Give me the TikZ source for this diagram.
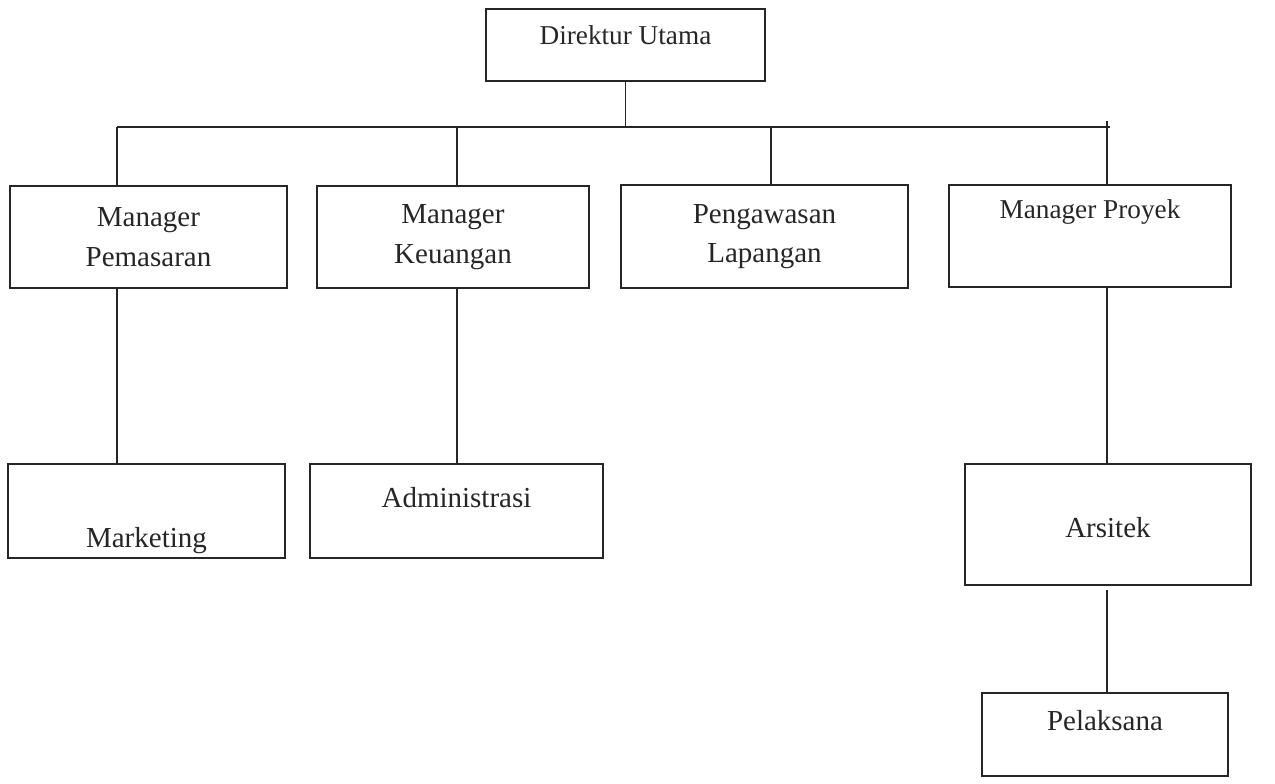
\documentclass[tikz,border=0pt]{standalone}
\usepackage{fontspec}
\setmainfont{Liberation Serif}
\usetikzlibrary{positioning,calc}
\tikzset{
  unit/.style={draw=black!85, text=black!85, line width=1.1pt, rectangle, anchor=north west,
    inner xsep=0pt, align=center, font=\fontsize{16.5}{22.5}\selectfont},
  unitsmall/.style={unit, font=\fontsize{15.5}{20}\selectfont},
  link/.style={draw=black!85, line width=1pt},
}
\begin{document}
\begin{tikzpicture}[x=0.2mm,y=-0.2mm]
  \useasboundingbox (0,0) rectangle (1275,783);
  % top
  \node[unitsmall, minimum width=55.8mm, inner ysep=0pt, text height=7.2mm, text depth=7.2mm] (dirut) at (485,8) {Direktur Utama};
  % managers
  \node[unit, minimum width=55.4mm, minimum height=20.4mm] (pemasaran) at (9,185) {Manager\\Pemasaran};
  \node[unit, minimum width=54.4mm, minimum height=20.4mm] (keuangan) at (316,185) {Manager\\Keuangan};
  \node[unit, minimum width=57.4mm, minimum height=20.6mm] (pengawasan) at (620,184) {Pengawasan\\Lapangan};
  \node[unitsmall, minimum width=56.4mm, inner ysep=0pt, text height=6.8mm, text depth=13.6mm] (proyek) at (948,184) {Manager Proyek};
  % staff
  \node[unit, minimum width=55.4mm, inner ysep=0pt, text height=16.8mm, text depth=2mm] (marketing) at (7,463) {Marketing};
  \node[unit, minimum width=58.6mm, inner ysep=0pt, text height=8.8mm, text depth=10mm] (administrasi) at (309,463) {Administrasi};
  \node[unit, minimum width=57.2mm, inner ysep=0pt, text height=14.8mm, text depth=9.4mm] (arsitek) at (964,463) {Arsitek};
  \node[unit, minimum width=49.2mm, inner ysep=0pt, text height=7.6mm, text depth=9mm] (pelaksana) at (981,692) {Pelaksana};
  % bus
  \coordinate (busL) at (117,127);
  \coordinate (busR) at (1110,127);
  \coordinate (dropK) at (457,127);
  \coordinate (dropL) at (771,127);
  \coordinate (dropP) at (1107,121);
  \draw[link] (dirut.south) -- (dirut.south |- busL);
  \draw[link] (busL) -- (busR);
  \draw[link] (busL) -- (busL |- pemasaran.north);
  \draw[link] (dropK) -- (dropK |- keuangan.north);
  \draw[link] (dropL) -- (dropL |- pengawasan.north);
  \draw[link] (dropP) -- (dropP |- proyek.north);
  % lower links
  \draw[link] (pemasaran.south -| busL) -- (marketing.north -| busL);
  \draw[link] (keuangan.south -| dropK) -- (administrasi.north -| dropK);
  \draw[link] (proyek.south -| dropP) -- (arsitek.north -| dropP);
  \draw[link] ($(arsitek.south -| dropP)+(0,4)$) -- (pelaksana.north -| dropP);
\end{tikzpicture}
\end{document}
